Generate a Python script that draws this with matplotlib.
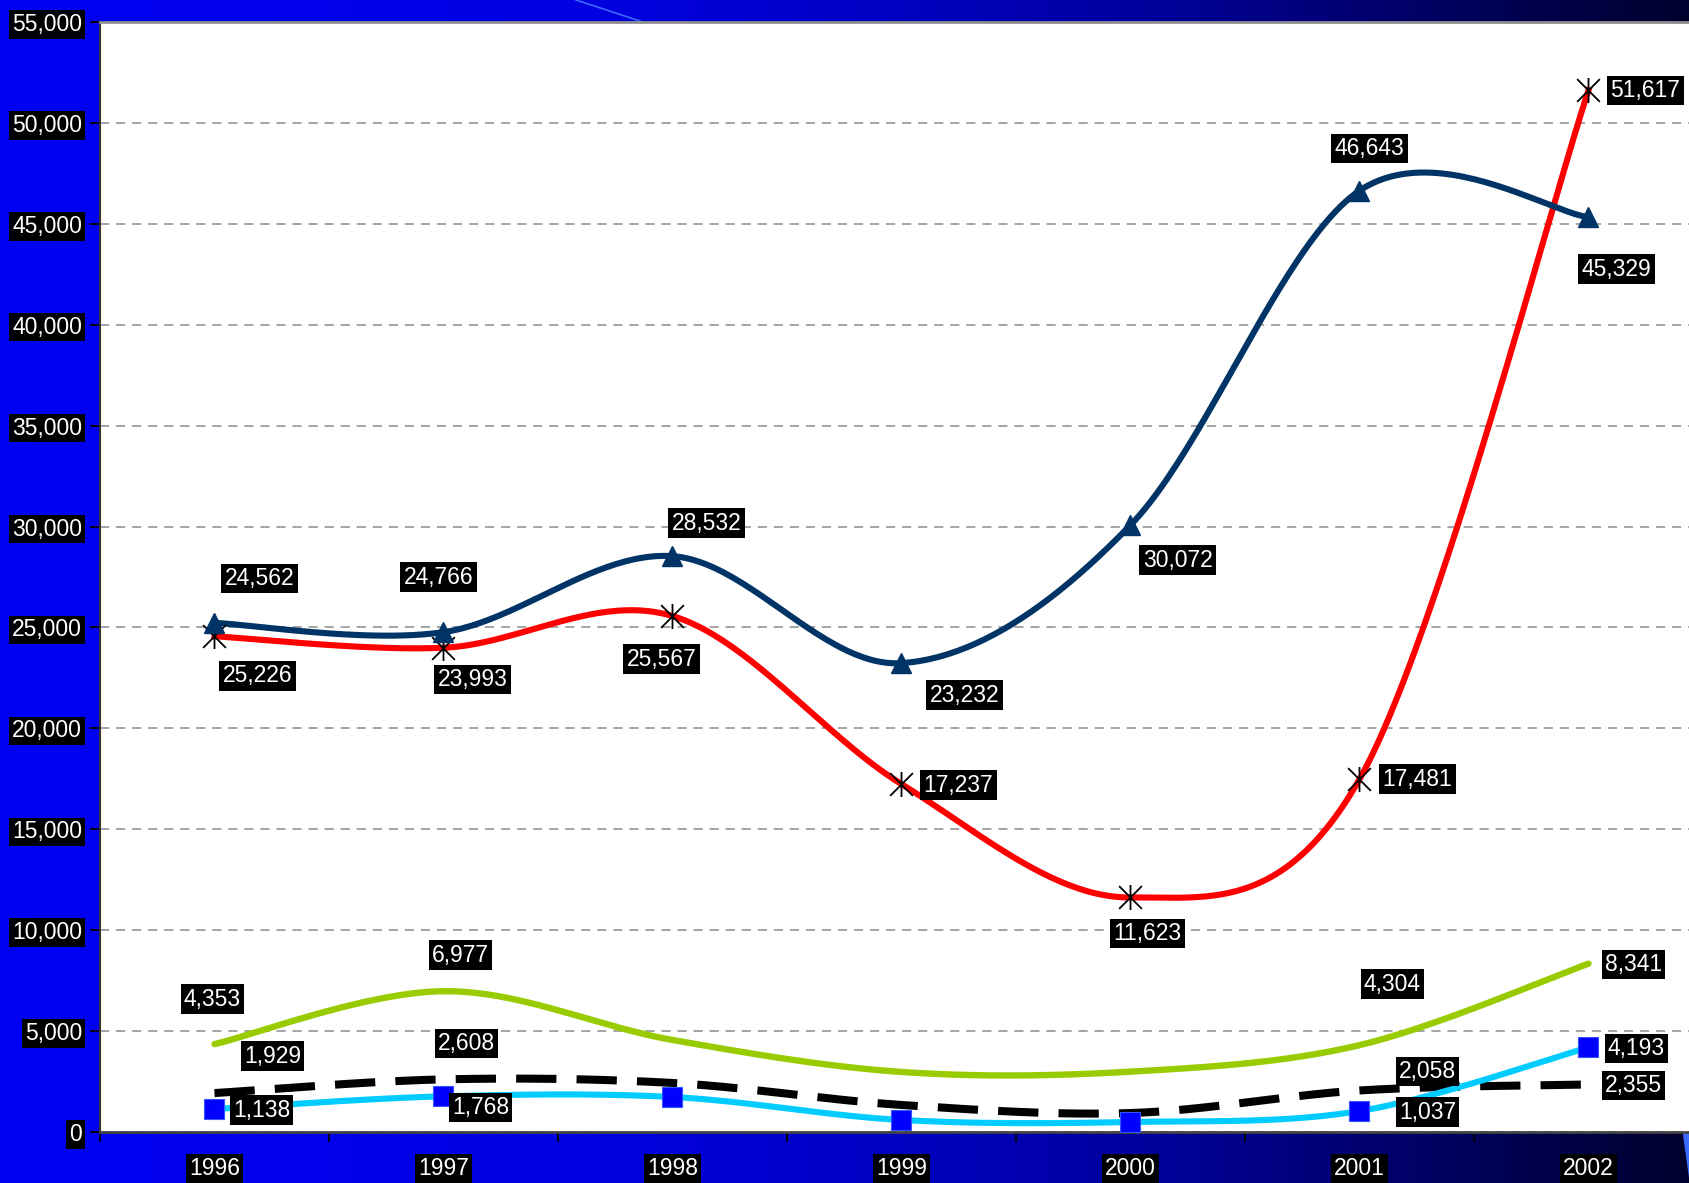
import numpy as np
import matplotlib

matplotlib.use("Agg")
import matplotlib.pyplot as plt
from matplotlib.path import Path
from matplotlib.colors import LinearSegmentedColormap

plt.rcParams["font.family"] = ["Liberation Sans", "DejaVu Sans"]

# data
years = ["1996", "1997", "1998", "1999", "2000", "2001", "2002"]
navy_vals = [25226, 24766, 28532, 23232, 30072, 46643, 45329]
red_vals = [24562, 23993, 25567, 17237, 11623, 17481, 51617]
green_vals = [4353, 6977, 4560, 2975, 2990, 4304, 8341]
dash_vals = [1929, 2608, 2430, 1340, 940, 2058, 2355]
cyan_vals = [1138, 1768, 1734, 595, 495, 1037, 4193]

# which points carry a data label (the others were hidden in the original)
navy_shown = [0, 1, 2, 3, 4, 5, 6]
red_shown = [0, 1, 2, 3, 4, 5, 6]
small_shown = [0, 1, 5, 6]

# label offsets in pixels (dx, dy), one per shown label
navy_off = [(43, -53), (-5, 55), (34, 33), (63, -32), (47, -35), (10, 42), (28, -52)]
red_off = [(45, 58), (29, -32), (-11, -43), (57, -1), (17, -36), (58, 0), (57, 0)]
green_off = [(-2, 45), (17, 36), (33, 61), (45, -1)]
dash_off = [(58, 37), (23, 36), (68, 19), (45, -1)]
cyan_off = [(47, -1), (37, -11), (68, -1), (48, -1)]

W, H = 1690, 1183
fig = plt.figure(figsize=(W / 100, H / 100), dpi=100)

# blue slide background, darker to the right
bg = fig.add_axes([0, 0, 1, 1], zorder=-10)
cmap = LinearSegmentedColormap.from_list(
    "slide",
    [(0.0, (0, 0, 245 / 255)), (0.35, (0, 0, 225 / 255)), (0.5, (0, 0, 200 / 255)),
     (0.65, (0, 0, 165 / 255)), (0.8, (0, 0, 115 / 255)), (1.0, (0, 0, 45 / 255))],
)
bg.imshow(np.linspace(0, 1, 256)[None, :], aspect="auto", cmap=cmap, extent=[0, 1, 0, 1])
bg.plot([576 / W, 643 / W], [1, 1 - 22 / H], color="#3a6cff", lw=1.2)
bg.fill([1683 / W, 1.0, 1.0], [1 - 1133 / H, 1 - 1133 / H, 0], color="#3a6cff")
bg.set_xlim(0, 1)
bg.set_ylim(0, 1)
bg.axis("off")

# plot area runs a bit past the right edge, like the screenshot
ax = fig.add_axes([100 / W, 51 / H, 1603 / W, 1110 / H])
ax.set_facecolor("white")
x = np.arange(len(years))
ax.set_xlim(-0.5, 6.5)
ax.set_ylim(0, 55000)

sx = 229.0
sy = 100.9 / 5000


def smooth(xs, ys, n=50):
    # excel style smoothed line: bezier through points, handles from neighbours
    pts = np.column_stack([np.asarray(xs, float) * sx, np.asarray(ys, float) * sy])
    P = np.vstack([pts[0], pts, pts[-1]])
    out = []
    t = np.linspace(0, 1, n)[:, None]
    for i in range(len(pts) - 1):
        p0, p1, p2, p3 = P[i], P[i + 1], P[i + 2], P[i + 3]
        c1 = p1 + (p2 - p0) / 6
        c2 = p2 - (p3 - p1) / 6
        seg = (1 - t) ** 3 * p1 + 3 * (1 - t) ** 2 * t * c1 + 3 * (1 - t) * t ** 2 * c2 + t ** 3 * p2
        out.append(seg if i == 0 else seg[1:])
    out = np.vstack(out)
    return out[:, 0] / sx, out[:, 1] / sy


# gridlines
ax.set_yticks(np.arange(0, 55001, 5000))
ax.yaxis.grid(True, color="#8c8c8c", linestyle=(0, (6, 4.5)), linewidth=1.1)
ax.set_axisbelow(True)

# asterisk marker used by the red series
star = Path(
    [(-1, -1), (1, 1), (-1, 1), (1, -1), (0, -1.1), (0, 1.1)],
    [Path.MOVETO, Path.LINETO, Path.MOVETO, Path.LINETO, Path.MOVETO, Path.LINETO],
)

sx_, sy_ = smooth(x, green_vals)
ax.plot(sx_, sy_, color="#99cc00", lw=4.6, solid_capstyle="round", zorder=3)

sx_, sy_ = smooth(x, dash_vals)
ax.plot(sx_, sy_, color="black", lw=5.8, dashes=(5.0, 2.5), zorder=3)

sx_, sy_ = smooth(x, cyan_vals)
ax.plot(sx_, sy_, color="#00ccff", lw=4.4, zorder=3)
ax.plot(x, cyan_vals, ls="none", marker="s", ms=14.5, mfc="#0000ff", mec="#3355ff", mew=0.8, zorder=4)

sx_, sy_ = smooth(x, red_vals)
ax.plot(sx_, sy_, color="#ff0000", lw=4.4, zorder=5)
ax.plot(x, red_vals, ls="none", marker=star, ms=18, mec="black", mfc="none", mew=1.3, zorder=6)

sx_, sy_ = smooth(x, navy_vals)
ax.plot(sx_, sy_, color="#003366", lw=4.4, zorder=5)
ax.plot(x, navy_vals, ls="none", marker="^", ms=15, color="#003366", zorder=6)


def put_labels(vals, shown, offs):
    for k, i in enumerate(shown):
        ax.annotate(
            f"{vals[i]:,}", (x[i], vals[i]), xytext=offs[k], textcoords="offset pixels",
            ha="center", va="center", color="white", fontsize=16.5, zorder=10,
            bbox=dict(boxstyle="square,pad=0.14", fc="black", ec="none"),
            annotation_clip=False,
        )


put_labels(navy_vals, navy_shown, navy_off)
put_labels(red_vals, red_shown, red_off)
put_labels(green_vals, small_shown, green_off)
put_labels(dash_vals, small_shown, dash_off)
put_labels(cyan_vals, small_shown, cyan_off)

# axes and ticks
ax.set_yticklabels([f"{v:,}" for v in range(0, 55001, 5000)])
ax.tick_params(axis="y", length=7, width=1.3, color="black", direction="out", pad=6,
               labelsize=16.5, labelcolor="white")
for lab in ax.get_yticklabels():
    lab.set_bbox(dict(boxstyle="square,pad=0.12", fc="black", ec="none"))

ax.set_xticks(x)
ax.set_xticklabels(years)
ax.set_xticks(np.arange(-0.5, 7, 1), minor=True)
ax.tick_params(axis="x", which="major", length=0, pad=18, labelsize=16.5, labelcolor="white")
ax.tick_params(axis="x", which="minor", length=7, width=1.3, color="black", direction="out")
for lab in ax.get_xticklabels():
    lab.set_bbox(dict(boxstyle="square,pad=0.12", fc="black", ec="none"))

ax.spines["left"].set_color("#333333")
ax.spines["left"].set_linewidth(1.5)
ax.spines["bottom"].set_color("#444444")
ax.spines["bottom"].set_linewidth(2)
ax.spines["top"].set_color("#909090")
ax.spines["top"].set_linewidth(2)
ax.spines["right"].set_visible(False)

fig.savefig("out.png", dpi=100)
